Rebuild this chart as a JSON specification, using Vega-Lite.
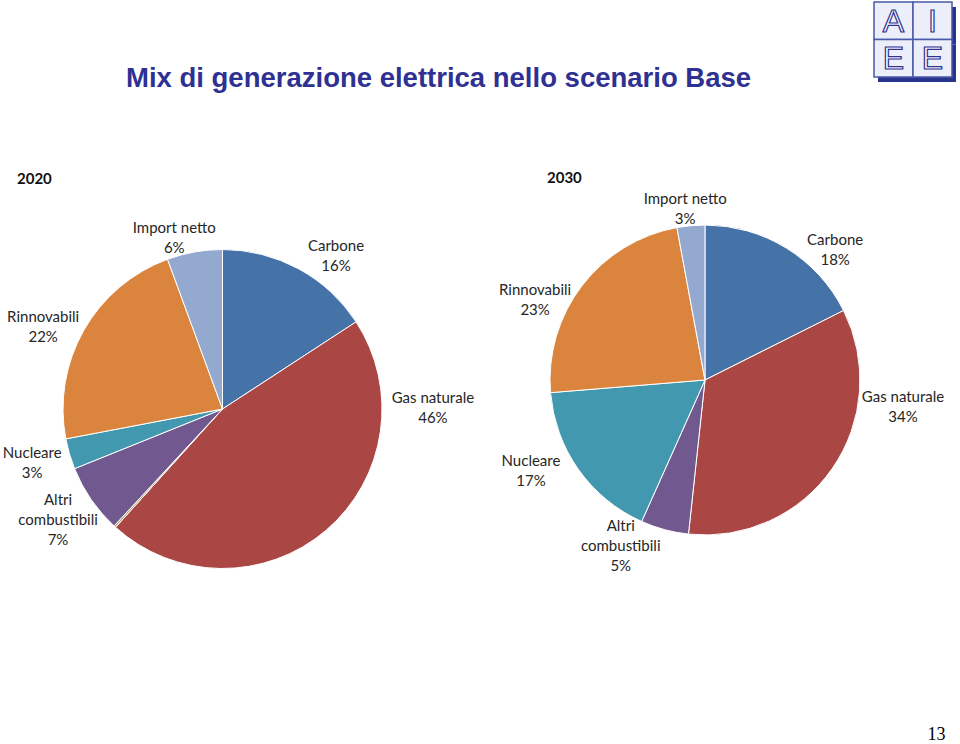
{
  "$schema": "https://vega.github.io/schema/vega-lite/v6.json",
  "width": 960,
  "height": 744,
  "autosize": "none",
  "padding": 0,
  "background": "white",
  "config": {"view": {"stroke": null}},
  "title": {
    "text": "Mix di generazione elettrica nello scenario Base",
    "anchor": "start",
    "frame": "group",
    "dx": 126,
    "dy": 114,
    "offset": 0,
    "font": "Liberation Sans",
    "fontSize": 27.5,
    "fontWeight": "bold",
    "color": "#2e3192",
    "baseline": "alphabetic"
  },
  "datasets": {
    "mix": [
      {"anno": "2020", "fonte": "Carbone", "quota": 15.8, "ordine": 1, "etichetta": "Carbone\n16%"},
      {"anno": "2020", "fonte": "Gas naturale", "quota": 45.9, "ordine": 2, "etichetta": "Gas naturale\n46%"},
      {"anno": "2020", "fonte": "Altro", "quota": 0.2, "ordine": 3, "etichetta": ""},
      {"anno": "2020", "fonte": "Altri combustibili", "quota": 7.0, "ordine": 4, "etichetta": "Altri\ncombustibili\n7%"},
      {"anno": "2020", "fonte": "Nucleare", "quota": 3.1, "ordine": 5, "etichetta": "Nucleare\n3%"},
      {"anno": "2020", "fonte": "Rinnovabili", "quota": 22.4, "ordine": 6, "etichetta": "Rinnovabili\n22%"},
      {"anno": "2020", "fonte": "Import netto", "quota": 5.6, "ordine": 7, "etichetta": "Import netto\n6%"},
      {"anno": "2030", "fonte": "Carbone", "quota": 17.6, "ordine": 1, "etichetta": "Carbone\n18%"},
      {"anno": "2030", "fonte": "Gas naturale", "quota": 34.1, "ordine": 2, "etichetta": "Gas naturale\n34%"},
      {"anno": "2030", "fonte": "Altri combustibili", "quota": 5.0, "ordine": 4, "etichetta": "Altri\ncombustibili\n5%"},
      {"anno": "2030", "fonte": "Nucleare", "quota": 17.0, "ordine": 5, "etichetta": "Nucleare\n17%"},
      {"anno": "2030", "fonte": "Rinnovabili", "quota": 23.4, "ordine": 6, "etichetta": "Rinnovabili\n23%"},
      {"anno": "2030", "fonte": "Import netto", "quota": 2.9, "ordine": 7, "etichetta": "Import netto\n3%"}
    ],
    "logo": [
      {"lettera": "A", "col": "sx", "riga": "su"},
      {"lettera": "I", "col": "dx", "riga": "su"},
      {"lettera": "E", "col": "sx", "riga": "giu"},
      {"lettera": "E", "col": "dx", "riga": "giu"}
    ]
  },
  "layer": [
    {
      "data": {"name": "mix"},
      "encoding": {
        "x": {"field": "anno", "type": "nominal", "scale": {"type": "point", "domain": ["2020", "2030"], "range": [222.5, 705], "padding": 0},
          "axis": {"title": "13", "labels": false, "ticks": false, "domain": false, "grid": false, "titleFont": "Liberation Serif", "titleFontSize": 18, "titleFontWeight": "normal", "titleColor": "#000000", "titleX": 945, "titleY": -5, "titleAlign": "right", "titleBaseline": "alphabetic"}},
        "y": {"field": "anno", "type": "nominal", "scale": {"type": "point", "domain": ["2020", "2030"], "range": [409, 380], "padding": 0}, "axis": null}
      },
      "layer": [
        {
          "transform": [{"filter": "datum.anno === '2020'"}],
          "mark": {"type": "arc", "outerRadius": 159.5, "stroke": "white", "strokeWidth": 1},
          "encoding": {
            "theta": {"field": "quota", "type": "quantitative", "stack": true, "scale": {"domain": [0, 100]}},
            "order": {"field": "ordine", "type": "quantitative"},
            "color": {"field": "fonte", "type": "nominal", "legend": null,
              "scale": {"domain": ["Carbone", "Gas naturale", "Altro", "Altri combustibili", "Nucleare", "Rinnovabili", "Import netto"],
                        "range": ["#4572a7", "#aa4643", "#b3a36d", "#71588f", "#4198af", "#db843d", "#93a9cf"]}}
          }
        },
        {
          "transform": [{"filter": "datum.anno === '2030'"}],
          "mark": {"type": "arc", "outerRadius": 155, "stroke": "white", "strokeWidth": 1},
          "encoding": {
            "theta": {"field": "quota", "type": "quantitative", "stack": true, "scale": {"domain": [0, 100]}},
            "order": {"field": "ordine", "type": "quantitative"},
            "color": {"field": "fonte", "type": "nominal", "legend": null}
          }
        },
        {
          "transform": [{"filter": "datum.anno === '2020'"}],
          "mark": {"type": "text", "radius": 190, "dx": 23, "dy": 4, "font": "Lato", "fontSize": 15, "lineBreak": "\n", "lineHeight": 20, "align": "center", "baseline": "middle", "color": "#262626"},
          "encoding": {
            "theta": {"field": "quota", "type": "quantitative", "stack": true},
            "order": {"field": "ordine", "type": "quantitative"},
            "detail": {"field": "fonte", "type": "nominal"},
            "text": {"condition": {"test": "datum.fonte === 'Carbone'", "field": "etichetta", "type": "nominal"}, "value": ""}
          }
        },
        {
          "transform": [{"filter": "datum.anno === '2020'"}],
          "mark": {"type": "text", "radius": 190, "dx": 87, "dy": -155, "font": "Lato", "fontSize": 15, "lineBreak": "\n", "lineHeight": 20, "align": "center", "baseline": "middle", "color": "#262626"},
          "encoding": {
            "theta": {"field": "quota", "type": "quantitative", "stack": true},
            "order": {"field": "ordine", "type": "quantitative"},
            "detail": {"field": "fonte", "type": "nominal"},
            "text": {"condition": {"test": "datum.fonte === 'Gas naturale'", "field": "etichetta", "type": "nominal"}, "value": ""}
          }
        },
        {
          "transform": [{"filter": "datum.anno === '2020'"}],
          "mark": {"type": "text", "radius": 190, "dx": -8, "dy": -17, "font": "Lato", "fontSize": 15, "lineBreak": "\n", "lineHeight": 20, "align": "center", "baseline": "middle", "color": "#262626"},
          "encoding": {
            "theta": {"field": "quota", "type": "quantitative", "stack": true},
            "order": {"field": "ordine", "type": "quantitative"},
            "detail": {"field": "fonte", "type": "nominal"},
            "text": {"condition": {"test": "datum.fonte === 'Altri combustibili'", "field": "etichetta", "type": "nominal"}, "value": ""}
          }
        },
        {
          "transform": [{"filter": "datum.anno === '2020'"}],
          "mark": {"type": "text", "radius": 190, "dx": -8, "dy": -10, "font": "Lato", "fontSize": 15, "lineBreak": "\n", "lineHeight": 20, "align": "center", "baseline": "middle", "color": "#262626"},
          "encoding": {
            "theta": {"field": "quota", "type": "quantitative", "stack": true},
            "order": {"field": "ordine", "type": "quantitative"},
            "detail": {"field": "fonte", "type": "nominal"},
            "text": {"condition": {"test": "datum.fonte === 'Nucleare'", "field": "etichetta", "type": "nominal"}, "value": ""}
          }
        },
        {
          "transform": [{"filter": "datum.anno === '2020'"}],
          "mark": {"type": "text", "radius": 190, "dx": -14, "dy": 2, "font": "Lato", "fontSize": 15, "lineBreak": "\n", "lineHeight": 20, "align": "center", "baseline": "middle", "color": "#262626"},
          "encoding": {
            "theta": {"field": "quota", "type": "quantitative", "stack": true},
            "order": {"field": "ordine", "type": "quantitative"},
            "detail": {"field": "fonte", "type": "nominal"},
            "text": {"condition": {"test": "datum.fonte === 'Rinnovabili'", "field": "etichetta", "type": "nominal"}, "value": ""}
          }
        },
        {
          "transform": [{"filter": "datum.anno === '2020'"}],
          "mark": {"type": "text", "radius": 190, "dx": -15, "dy": 6, "font": "Lato", "fontSize": 15, "lineBreak": "\n", "lineHeight": 20, "align": "center", "baseline": "middle", "color": "#262626"},
          "encoding": {
            "theta": {"field": "quota", "type": "quantitative", "stack": true},
            "order": {"field": "ordine", "type": "quantitative"},
            "detail": {"field": "fonte", "type": "nominal"},
            "text": {"condition": {"test": "datum.fonte === 'Import netto'", "field": "etichetta", "type": "nominal"}, "value": ""}
          }
        },
        {
          "transform": [{"filter": "datum.anno === '2030'"}],
          "mark": {"type": "text", "radius": 185, "dx": 33, "dy": 17, "font": "Lato", "fontSize": 15, "lineBreak": "\n", "lineHeight": 20, "align": "center", "baseline": "middle", "color": "#262626"},
          "encoding": {
            "theta": {"field": "quota", "type": "quantitative", "stack": true},
            "order": {"field": "ordine", "type": "quantitative"},
            "detail": {"field": "fonte", "type": "nominal"},
            "text": {"condition": {"test": "datum.fonte === 'Carbone'", "field": "etichetta", "type": "nominal"}, "value": ""}
          }
        },
        {
          "transform": [{"filter": "datum.anno === '2030'"}],
          "mark": {"type": "text", "radius": 185, "dx": 46, "dy": -88, "font": "Lato", "fontSize": 15, "lineBreak": "\n", "lineHeight": 20, "align": "center", "baseline": "middle", "color": "#262626"},
          "encoding": {
            "theta": {"field": "quota", "type": "quantitative", "stack": true},
            "order": {"field": "ordine", "type": "quantitative"},
            "detail": {"field": "fonte", "type": "nominal"},
            "text": {"condition": {"test": "datum.fonte === 'Gas naturale'", "field": "etichetta", "type": "nominal"}, "value": ""}
          }
        },
        {
          "transform": [{"filter": "datum.anno === '2030'"}],
          "mark": {"type": "text", "radius": 185, "dx": -36, "dy": -33, "font": "Lato", "fontSize": 15, "lineBreak": "\n", "lineHeight": 20, "align": "center", "baseline": "middle", "color": "#262626"},
          "encoding": {
            "theta": {"field": "quota", "type": "quantitative", "stack": true},
            "order": {"field": "ordine", "type": "quantitative"},
            "detail": {"field": "fonte", "type": "nominal"},
            "text": {"condition": {"test": "datum.fonte === 'Altri combustibili'", "field": "etichetta", "type": "nominal"}, "value": ""}
          }
        },
        {
          "transform": [{"filter": "datum.anno === '2030'"}],
          "mark": {"type": "text", "radius": 185, "dx": -23, "dy": -26, "font": "Lato", "fontSize": 15, "lineBreak": "\n", "lineHeight": 20, "align": "center", "baseline": "middle", "color": "#262626"},
          "encoding": {
            "theta": {"field": "quota", "type": "quantitative", "stack": true},
            "order": {"field": "ordine", "type": "quantitative"},
            "detail": {"field": "fonte", "type": "nominal"},
            "text": {"condition": {"test": "datum.fonte === 'Nucleare'", "field": "etichetta", "type": "nominal"}, "value": ""}
          }
        },
        {
          "transform": [{"filter": "datum.anno === '2030'"}],
          "mark": {"type": "text", "radius": 185, "dx": -23, "dy": 22, "font": "Lato", "fontSize": 15, "lineBreak": "\n", "lineHeight": 20, "align": "center", "baseline": "middle", "color": "#262626"},
          "encoding": {
            "theta": {"field": "quota", "type": "quantitative", "stack": true},
            "order": {"field": "ordine", "type": "quantitative"},
            "detail": {"field": "fonte", "type": "nominal"},
            "text": {"condition": {"test": "datum.fonte === 'Rinnovabili'", "field": "etichetta", "type": "nominal"}, "value": ""}
          }
        },
        {
          "transform": [{"filter": "datum.anno === '2030'"}],
          "mark": {"type": "text", "radius": 185, "dx": -3, "dy": 3, "font": "Lato", "fontSize": 15, "lineBreak": "\n", "lineHeight": 20, "align": "center", "baseline": "middle", "color": "#262626"},
          "encoding": {
            "theta": {"field": "quota", "type": "quantitative", "stack": true},
            "order": {"field": "ordine", "type": "quantitative"},
            "detail": {"field": "fonte", "type": "nominal"},
            "text": {"condition": {"test": "datum.fonte === 'Import netto'", "field": "etichetta", "type": "nominal"}, "value": ""}
          }
        },
        {
          "transform": [{"filter": "datum.anno === '2020' && datum.ordine === 1"}],
          "mark": {"type": "text", "dx": -205.5, "dy": -230, "font": "Lato", "fontSize": 15, "fontWeight": "bold", "align": "left", "baseline": "middle", "color": "#111111"},
          "encoding": {"text": {"field": "anno", "type": "nominal"}}
        },
        {
          "transform": [{"filter": "datum.anno === '2030' && datum.ordine === 1"}],
          "mark": {"type": "text", "dx": -158, "dy": -202, "font": "Lato", "fontSize": 15, "fontWeight": "bold", "align": "left", "baseline": "middle", "color": "#111111"},
          "encoding": {"text": {"field": "anno", "type": "nominal"}}
        }
      ]
    },
    {
      "data": {"name": "logo"},
      "encoding": {
        "x": {"field": "col", "type": "nominal", "scale": {"type": "band", "domain": ["sx", "dx"], "range": [874, 952], "paddingInner": 0, "paddingOuter": 0}, "axis": null},
        "y": {"field": "riga", "type": "nominal", "scale": {"type": "band", "domain": ["su", "giu"], "range": [2, 77], "paddingInner": 0, "paddingOuter": 0}, "axis": null}
      },
      "layer": [
        {"mark": {"type": "rect", "color": "#28338c", "xOffset": 4, "yOffset": 5}},
        {"mark": {"type": "rect", "fill": "#eceff9", "stroke": "#4a5aa8", "strokeWidth": 1.5}},
        {"mark": {"type": "text", "font": "Liberation Sans", "fontSize": 32, "fill": "#fbfbfe", "stroke": "#2e3192", "strokeWidth": 1.2, "dy": 1, "baseline": "middle", "align": "center"},
         "encoding": {"text": {"field": "lettera", "type": "nominal"}}}
      ]
    }
  ],
  "resolve": {"scale": {"x": "independent", "y": "independent"}, "axis": {"x": "independent", "y": "independent"}}
}
